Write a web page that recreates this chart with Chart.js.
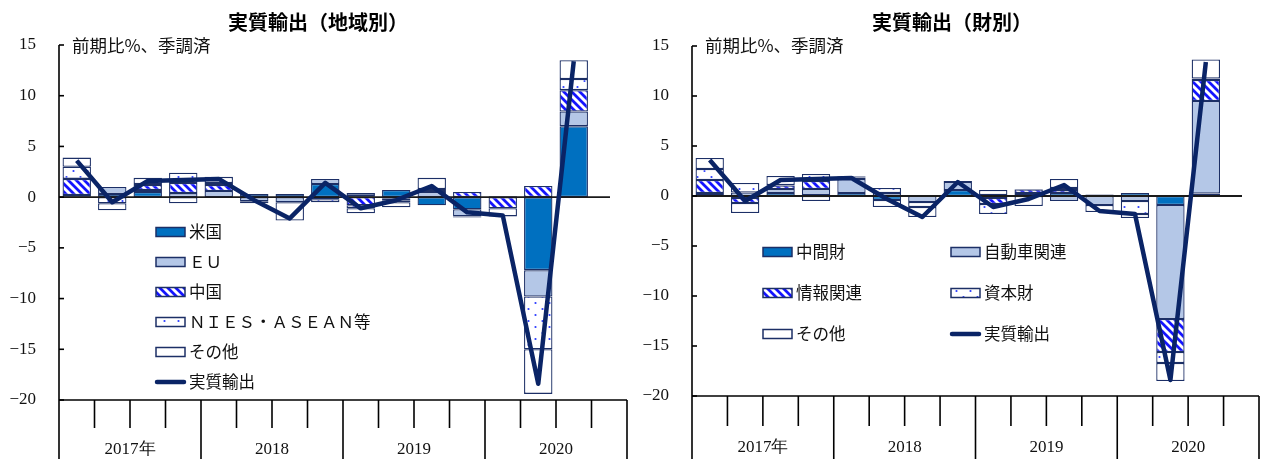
<!DOCTYPE html>
<html><head><meta charset="utf-8">
<script src="https://cdn.jsdelivr.net/npm/chart.js@4/dist/chart.umd.min.js"></script>
<style>
html,body{margin:0;padding:0;background:#fff;width:1262px;height:459px;overflow:hidden}
.p{position:absolute;top:0;width:631px;height:459px}
canvas{display:block}
</style></head><body>
<div class="p" style="left:0"><canvas id="c1" width="631" height="459"></canvas></div>
<div class="p" style="left:631px"><canvas id="c2" width="631" height="459"></canvas></div>
<script>
// ---- data ----
const quarters = ['2017Q1','2017Q2','2017Q3','2017Q4','2018Q1','2018Q2','2018Q3','2018Q4',
                  '2019Q1','2019Q2','2019Q3','2019Q4','2020Q1','2020Q2','2020Q3','2020Q4'];
const yearLabels = ['2017年','2018','2019','2020'];
const yTicks = [-20,-15,-10,-5,0,5,10,15];

// 実質輸出（前期比%）
const realExports = [3.6,-0.5,1.6,1.7,1.8,-0.3,-2.1,1.4,-1.1,-0.3,1.1,-1.5,-1.8,-18.4,13.4,null];

// 地域別寄与度
const usa    = [0.1, 0.3, 0.5, 0,   0,   0.3, 0.3, 1.3, 0.1, 0.7,-0.8,-1.2, 0.1,-7.2, 7.0, null];
const eu     = [0.1, 0.7, 0.2, 0.4, 0.6,-0.4,-0.5, 0.5, 0.3,-0.1, 0.5,-0.7, 0,  -2.6, 1.45,null];
const china  = [1.6, 0,   0.5, 1.0, 0.6, 0,   0,  -0.2,-0.8,-0.2, 0.1, 0.5,-1.1, 1.1, 2.1, null];
const nies   = [1.2,-0.6, 0.1, 1.0, 0.2, 0,   0,  -0.3,-0.3,-0.2, 0.2,-0.1, 0,  -5.2, 1.1, null];
const otherR = [0.9,-0.7, 0.6,-0.6, 0.6,-0.2,-1.8, 0,  -0.5,-0.5, 1.1, 0,  -0.8,-4.4, 1.85,null];

// 財別寄与度
const intermediate = [0.2,-0.2, 0.3, 0.1, 0.3,-0.4, 0.1, 0.6,-0.2, 0.2, 0.3, 0.15, 0.3,-0.9, 0.25,null];
const autos        = [0.1, 0.35,0.4, 0.6, 1.4, 0.3,-0.6, 0.8, 0.1, 0.1,-0.5,-0.9,-0.5,-11.4, 9.25,null];
const infoRel      = [1.3,-0.5, 0.35,0.8, 0.15,0,   0,   0.1,-0.6, 0.35,0.3, 0,   0,  -3.3, 2.1, null];
const capital      = [1.1, 0.95,0.05,0.7, 0.1, 0.5,-0.5, 0,  -1.0, 0.05,0.2, 0,  -1.3,-1.1, 0.15,null];
const otherG       = [1.1,-1.0, 0.9,-0.5, 0.05,-0.7,-1.0, 0,  0.5,-1.0, 0.9,-0.7,-0.4,-1.8, 1.9, null];

// ---- styles ----
const NAVY = '#1c2f66';
const LINE = '#0a2466';
const DARK = '#0070c0';
const LIGHT = '#b4c7e7';
const JP = "'Noto Sans CJK JP', 'Noto Sans', sans-serif";
const SERIF = "'Liberation Serif', 'DejaVu Serif', serif";

function makePattern(kind){
  const c = document.createElement('canvas');
  const g = c.getContext('2d');
  if(kind==='stripe'){
    c.width = 8; c.height = 8;
    g.fillStyle = '#fff'; g.fillRect(0,0,8,8);
    g.strokeStyle = '#1414ff'; g.lineWidth = 2.8;
    g.beginPath();
    g.moveTo(-2,-2); g.lineTo(10,10);
    g.moveTo(-2,6); g.lineTo(2,10);
    g.moveTo(6,-2); g.lineTo(10,2);
    g.stroke();
  } else {
    c.width = 14; c.height = 12;
    g.fillStyle = '#fff'; g.fillRect(0,0,14,12);
    g.fillStyle = '#2a3cff';
    g.beginPath(); g.arc(3.5,3,1.1,0,Math.PI*2); g.fill();
    g.beginPath(); g.arc(10.5,9,1.1,0,Math.PI*2); g.fill();
  }
  return document.createElement('canvas').getContext('2d').createPattern(c,'repeat');
}
const STRIPE = makePattern('stripe');
const DOTS = makePattern('dots');

function clean(arr){ return arr.map(v => v===0 ? null : v); }

function barDs(label, data, fill){
  return {type:'bar', label, data: clean(data), backgroundColor: fill, borderColor: NAVY,
          borderWidth: 1.3, borderSkipped: false, order: 1,
          barPercentage: 0.8, categoryPercentage: 1.0, stack: 's'};
}
function lineDs(label, data){
  return {type:'line', label, data, borderColor: LINE, borderWidth: 4.5, pointRadius: 0,
          borderJoinStyle: 'round', tension: 0, order: 0, fill: false};
}

const framePlugin = {
  id: 'frame',
  afterDatasetDraw(chart, args){
    if(args.index !== 0) return;
    const ctx = chart.ctx, a = chart.chartArea, y0 = chart.scales.y.getPixelForValue(0);
    ctx.save();
    ctx.strokeStyle = '#1a1a1a'; ctx.lineWidth = 1.8;
    ctx.beginPath(); ctx.moveTo(a.left, y0); ctx.lineTo(a.right - 17, y0); ctx.stroke();
    ctx.restore();
  },
  afterDraw(chart){
    const o = chart.options.plugins.frame;
    const ctx = chart.ctx, a = chart.chartArea, ys = chart.scales.y, xs = chart.scales.x;
    const H = chart.height;
    ctx.save();
    ctx.strokeStyle = '#000'; ctx.lineWidth = 1.6;
    // y axis line
    ctx.beginPath(); ctx.moveTo(a.left, a.top); ctx.lineTo(a.left, H); ctx.stroke();
    // inward ticks
    yTicks.forEach(v => {
      const y = ys.getPixelForValue(v);
      ctx.beginPath(); ctx.moveTo(a.left, y); ctx.lineTo(a.left + 5, y); ctx.stroke();
    });
    // bottom axis line
    ctx.beginPath(); ctx.moveTo(a.left, a.bottom); ctx.lineTo(a.right, a.bottom); ctx.stroke();
    // quarter boundaries
    const n = quarters.length;
    const slot = (xs.getPixelForValue(1) - xs.getPixelForValue(0));
    for(let i=1;i<=n;i++){
      const x = xs.getPixelForValue(i-1) + slot/2;
      ctx.beginPath(); ctx.moveTo(x, a.bottom);
      ctx.lineTo(x, i%4===0 ? H : a.bottom + o.minorLen); ctx.stroke();
    }
    // year labels
    ctx.fillStyle = '#111'; ctx.textAlign = 'center'; ctx.textBaseline = 'middle';
    ctx.font = '17px ' + SERIF;
    yearLabels.forEach((t, k) => {
      const x = xs.getPixelForValue(k*4) - slot/2 + slot*2;
      ctx.fillText(t, x, a.bottom + o.yearDy);
    });
    // title
    ctx.font = 'bold 20px ' + JP;
    ctx.fillStyle = '#000';
    ctx.fillText(o.title, o.titleX, 22);
    // unit
    ctx.font = '17.5px ' + JP; ctx.textAlign = 'left'; ctx.fillStyle = '#111';
    ctx.fillText('前期比%、季調済', a.left + 13, 45);
    // legend
    ctx.font = '16.5px ' + JP;
    o.legend.forEach(it => {
      const bx = it.x, by = it.y;
      if(it.line){
        ctx.strokeStyle = LINE; ctx.lineWidth = 4.5; ctx.lineCap = 'round';
        ctx.beginPath(); ctx.moveTo(bx + 1, by); ctx.lineTo(bx + 28, by); ctx.stroke();
      } else {
        ctx.fillStyle = it.fill; ctx.fillRect(bx, by - 4.5, 29, 9);
        ctx.strokeStyle = NAVY; ctx.lineWidth = 1.5; ctx.strokeRect(bx, by - 4.5, 29, 9);
      }
      ctx.fillStyle = '#111';
      ctx.fillText(it.text, bx + 33, by);
    });
    ctx.restore();
  }
};

function makeChart(id, datasets, pad, frame){
  return new Chart(document.getElementById(id), {
    data: {labels: quarters, datasets},
    options: {
      responsive: false, animation: false, devicePixelRatio: 1,
      layout: {padding: pad},
      scales: {
        x: {display: false, stacked: true, offset: true},
        y: {stacked: true, min: -20, max: 15,
            afterFit(s){ s.width = pad.axisW; },
            afterBuildTicks(s){ s.ticks = yTicks.map(v => ({value: v})); },
            grid: {display: false, drawTicks: false}, border: {display: false},
            ticks: {padding: 23, color: '#111', font: {family: SERIF, size: 17},
                    callback: v => String(v).replace('-', '−')}}
      },
      plugins: {legend: {display: false}, tooltip: {enabled: false}, title: {display: false},
                frame}
    },
    plugins: [framePlugin]
  });
}

makeChart('c1', [
  barDs('米国', usa, DARK),
  barDs('ＥＵ', eu, LIGHT),
  barDs('中国', china, STRIPE),
  barDs('ＮＩＥＳ・ＡＳＥＡＮ等', nies, DOTS),
  barDs('その他', otherR, '#fff'),
  lineDs('実質輸出', realExports)
], {left: 0, right: 4, top: 45, bottom: 59, axisW: 59}, {
  title: '実質輸出（地域別）', titleX: 318, minorLen: 28, yearDy: 50,
  legend: [
    {x: 156, y: 232, fill: DARK, text: '米国'},
    {x: 156, y: 262, fill: LIGHT, text: 'ＥＵ'},
    {x: 156, y: 292, fill: STRIPE, text: '中国'},
    {x: 156, y: 322, fill: DOTS, text: 'ＮＩＥＳ・ＡＳＥＡＮ等'},
    {x: 156, y: 352, fill: '#fff', text: 'その他'},
    {x: 156, y: 382, line: true, text: '実質輸出'}
  ]
});

makeChart('c2', [
  barDs('中間財', intermediate, DARK),
  barDs('自動車関連', autos, LIGHT),
  barDs('情報関連', infoRel, STRIPE),
  barDs('資本財', capital, DOTS),
  barDs('その他', otherG, '#fff'),
  lineDs('実質輸出', realExports)
], {left: 0, right: 3, top: 46, bottom: 63, axisW: 61}, {
  title: '実質輸出（財別）', titleX: 321, minorLen: 30, yearDy: 52,
  legend: [
    {x: 132, y: 252, fill: DARK, text: '中間財'},
    {x: 320, y: 252, fill: LIGHT, text: '自動車関連'},
    {x: 132, y: 293, fill: STRIPE, text: '情報関連'},
    {x: 320, y: 293, fill: DOTS, text: '資本財'},
    {x: 132, y: 334, fill: '#fff', text: 'その他'},
    {x: 320, y: 334, line: true, text: '実質輸出'}
  ]
});
</script>
</body></html>
